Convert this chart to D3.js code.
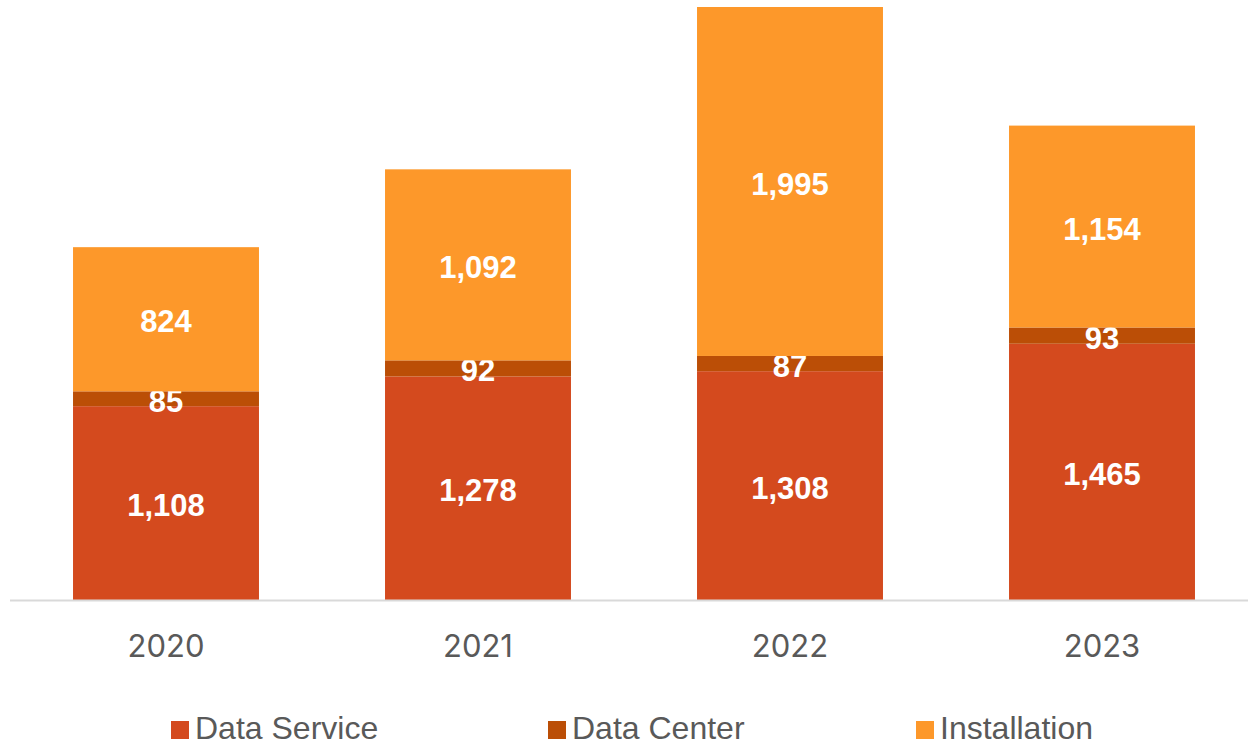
<!DOCTYPE html>
<html>
<head>
<meta charset="utf-8">
<script src="https://cdn.jsdelivr.net/npm/d3@7"></script>
<style>
  html, body { margin: 0; padding: 0; background: #fff; }
  svg { display: block; }
</style>
</head>
<body>
<svg id="chart"></svg>
<script>
// chart data
const years = ["2020", "2021", "2022", "2023"];
const seriesNames = ["Data Service", "Data Center", "Installation"];
const dataService = [1108, 1278, 1308, 1465];
const dataCenter = [85, 92, 87, 93];
const installation = [824, 1092, 1995, 1154];
const colors = ["#D44A1E", "#BB4E06", "#FD982A"];

const width = 1248;
const height = 745;

const svg = d3.select("#chart").attr("width", width).attr("height", height);

// rows for the stack
const rows = years.map(function (y, i) {
  return {
    year: y,
    "Data Service": dataService[i],
    "Data Center": dataCenter[i],
    "Installation": installation[i],
  };
});

const stacked = d3.stack().keys(seriesNames)(rows);

const x = d3
  .scaleBand()
  .domain(years)
  .range([10, 1258])
  .paddingInner(0.404)
  .paddingOuter(0.202);

const y = d3
  .scaleLinear()
  .domain([0, d3.max(rows, d => d["Data Service"] + d["Data Center"] + d["Installation"])])
  .range([600, 7]);

const color = d3.scaleOrdinal().domain(seriesNames).range(colors);

// bars
const layers = svg
  .selectAll(".layer")
  .data(stacked)
  .enter()
  .append("g")
  .attr("class", "layer")
  .attr("fill", d => color(d.key));

layers
  .selectAll("rect")
  .data(d => d)
  .enter()
  .append("rect")
  .attr("x", d => x(d.data.year))
  .attr("y", d => y(d[1]))
  .attr("width", x.bandwidth())
  .attr("height", d => y(d[0]) - y(d[1]));

// value labels
layers
  .selectAll("text")
  .data(d => d)
  .enter()
  .append("text")
  .attr("x", d => x(d.data.year) + x.bandwidth() / 2)
  .attr("y", d => (y(d[0]) + y(d[1])) / 2)
  .attr("dy", "0.42em")
  .attr("text-anchor", "middle")
  .attr("fill", "#fff")
  .style("font-family", "'Liberation Sans', Arial, sans-serif")
  .style("font-weight", "bold")
  .style("font-size", "31px")
  .text(d => d3.format(",")(d[1] - d[0]));

// x axis
const xAxis = svg.append("g").attr("transform", "translate(0,600)");
xAxis
  .append("line")
  .attr("x1", 10)
  .attr("x2", width)
  .attr("y1", 0.5)
  .attr("y2", 0.5)
  .attr("stroke", "#D9D9D9")
  .attr("stroke-width", 2);

xAxis
  .selectAll("text")
  .data(years)
  .enter()
  .append("text")
  .attr("x", d => x(d) + x.bandwidth() / 2)
  .attr("y", 57)
  .attr("text-anchor", "middle")
  .attr("fill", "#595959")
  .style("font-family", "Inter, 'Open Sans', sans-serif")
  .style("font-size", "31px")
  .text(d => d);

// legend
const legendX = [171, 548, 916];
const legend = svg
  .selectAll(".legend")
  .data(seriesNames)
  .enter()
  .append("g")
  .attr("class", "legend")
  .attr("transform", (d, i) => "translate(" + legendX[i] + ",721)");

legend
  .append("rect")
  .attr("width", 18)
  .attr("height", 18)
  .attr("fill", d => color(d));

legend
  .append("text")
  .attr("x", 24)
  .attr("y", 18)
  .attr("fill", "#595959")
  .style("font-family", "'Liberation Sans', Arial, sans-serif")
  .style("font-size", "32px")
  .text(d => d);
</script>
</body>
</html>
